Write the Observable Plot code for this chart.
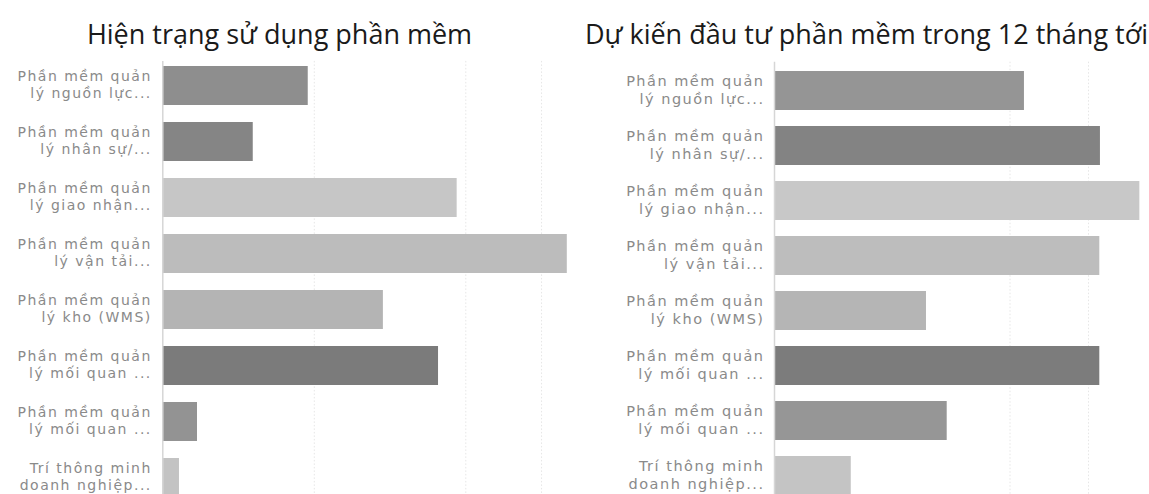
<!DOCTYPE html>
<html>
<head>
<meta charset="utf-8">
<script src="https://cdn.jsdelivr.net/npm/d3@7"></script>
<script src="https://cdn.jsdelivr.net/npm/@observablehq/plot@0.6"></script>
<style>
  html, body { margin: 0; padding: 0; background: #fff; overflow: hidden; width: 1149px; height: 494px; }
  #wrap { display: flex; width: 1149px; height: 494px; overflow: hidden; }
  .panel { position: relative; flex: none; }
  .panel svg { display: block; max-width: none; overflow: hidden; }
  .panel svg text { letter-spacing: 1.5px; }
  .title { position: absolute; white-space: nowrap; font-family: "Open Sans"; font-size: 27px;
           line-height: 27px; color: #1a1a1a; transform: translateX(-50%); }
</style>
</head>
<body>
<div id="wrap"></div>
<script>
// ---- data ----
const categories = ["erp", "hrm", "fms", "tms", "wms", "crm", "srm", "bi"];
const labels = [
  "Phần mềm quản\nlý nguồn lực...",
  "Phần mềm quản\nlý nhân sự/...",
  "Phần mềm quản\nlý giao nhận...",
  "Phần mềm quản\nlý vận tải...",
  "Phần mềm quản\nlý kho (WMS)",
  "Phần mềm quản\nlý mối quan ...",
  "Phần mềm quản\nlý mối quan ...",
  "Trí thông minh\ndoanh nghiệp..."
];
const currentValues = [9.6, 5.97, 19.43, 26.7, 14.56, 18.2, 2.29, 1.1];
const plannedValues = [15.92, 20.76, 23.27, 20.72, 9.68, 20.72, 11.0, 4.89];
const currentColors = ["#8e8e8e", "#858585", "#c6c6c6", "#bcbcbc", "#b4b4b4", "#7b7b7b", "#939393", "#c3c3c3"];
const plannedColors = ["#959595", "#838383", "#c8c8c8", "#bdbdbd", "#b5b5b5", "#7c7c7c", "#969696", "#c4c4c4"];
const currentGrid = [10, 20, 25];
const plannedGrid = [15, 20];
const titles = ["Hiện trạng sử dụng phần mềm", "Dự kiến đầu tư phần mềm trong 12 tháng tới"];

const labelOf = Object.fromEntries(categories.map((c, i) => [c, labels[i]]));

function makePanel(cfg) {
  const rows = categories.map((c, i) => ({key: c, value: cfg.values[i], color: cfg.colors[i]}));
  const div = document.createElement("div");
  div.className = "panel";
  div.style.width = cfg.width + "px";
  div.style.height = "494px";
  const chart = Plot.plot({
    width: cfg.width,
    height: cfg.height,
    marginLeft: cfg.marginLeft,
    marginRight: 0,
    marginTop: cfg.marginTop,
    marginBottom: 0,
    style: {background: "transparent", fontFamily: "DejaVu Sans", overflow: "hidden"},
    x: {domain: [0, cfg.xMax], axis: null},
    y: {domain: categories, padding: 0.3, axis: null, label: null},
    color: {type: "identity"},
    marks: [
      Plot.ruleX(cfg.grid, {stroke: "#e6e6e6", strokeWidth: 1, strokeDasharray: "1.5,2", insetTop: cfg.insetTop}),
      Plot.barX(rows, {x: "value", y: "key", fill: "color"}),
      Plot.ruleX([0], {stroke: "#d6d6d6", strokeWidth: 1.5, insetTop: cfg.insetTop}),
      Plot.axisY({
        label: null,
        tickSize: 0,
        tickPadding: cfg.tickPadding,
        tickFormat: k => labelOf[k],
        fontSize: cfg.fontSize,
        lineHeight: 1.25,
        dy: -2,
        fill: "#8a8a8a"
      })
    ]
  });
  div.appendChild(chart);
  const t = document.createElement("div");
  t.className = "title";
  t.textContent = cfg.title;
  t.style.left = cfg.titleCenter + "px";
  t.style.top = cfg.titleTop + "px";
  div.appendChild(t);
  return div;
}

const wrap = document.getElementById("wrap");
wrap.appendChild(makePanel({
  width: 578, height: 514, marginLeft: 162.3, marginTop: 48.9, insetTop: 12,
  xMax: (578 - 162.3) / 15.15, values: currentValues, colors: currentColors, grid: currentGrid,
  tickPadding: 11, fontSize: 14, title: titles[0], titleCenter: 279.5, titleTop: 20
}));
wrap.appendChild(makePanel({
  width: 571, height: 513, marginLeft: 196, marginTop: 53.4, insetTop: 8.3,
  xMax: (571 - 196) / 15.7, values: plannedValues, colors: plannedColors, grid: plannedGrid,
  tickPadding: 10, fontSize: 14.5, title: titles[1], titleCenter: 288.5, titleTop: 20
}));
</script>
</body>
</html>
